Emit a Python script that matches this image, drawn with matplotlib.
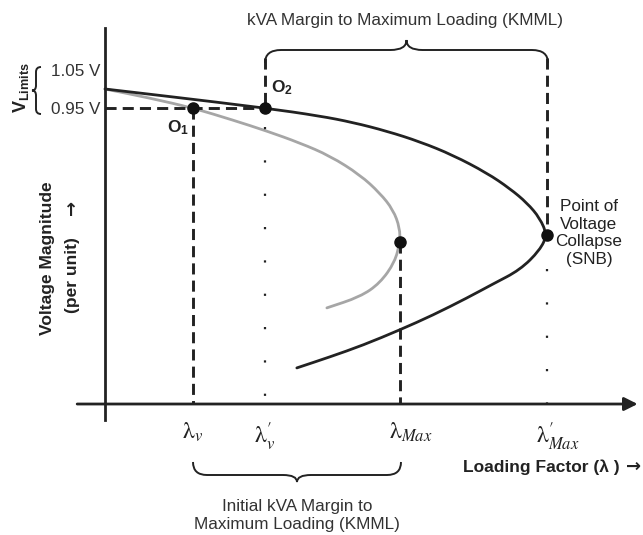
import numpy as np
import matplotlib
matplotlib.use('Agg')
import matplotlib.pyplot as plt
from matplotlib.path import Path
from matplotlib.patches import PathPatch

plt.rcParams['font.family'] = ['Liberation Sans', 'DejaVu Sans']
plt.rcParams['mathtext.fontset'] = 'custom'
plt.rcParams['mathtext.rm'] = 'Liberation Sans'
plt.rcParams['mathtext.it'] = 'Liberation Sans:italic'
plt.rcParams['mathtext.bf'] = 'Liberation Sans:bold'

# base case PV curve (loading factor, voltage in pu)
base_lam = [0.0, 0.140, 0.362, 0.486, 0.561, 0.638, 0.713, 0.787, 0.864, 0.916, 0.955,
            0.984, 1.0, 0.984, 0.939, 0.878, 0.819, 0.742, 0.667, 0.584, 0.509, 0.434]
base_v = [1.000, 0.981, 0.950, 0.929, 0.912, 0.889, 0.861, 0.826, 0.779, 0.738, 0.700,
          0.660, 0.616, 0.576, 0.524, 0.487, 0.450, 0.405, 0.366, 0.326, 0.295, 0.266]

# initial (stressed) PV curve
init_lam = [0.0, 0.102, 0.199, 0.290, 0.367, 0.441, 0.509, 0.577, 0.622, 0.652, 0.667,
            0.667, 0.656, 0.622, 0.577, 0.502]
init_v = [1.000, 0.976, 0.950, 0.918, 0.889, 0.858, 0.824, 0.774, 0.726, 0.682, 0.634,
          0.597, 0.545, 0.489, 0.453, 0.424]

v_limits = [1.05, 0.95]
lam_v, lam_v2, lam_max, lam_max2 = 0.199, 0.362, 0.667, 1.0
v_nose_init, v_nose_base = 0.597, 0.616
lam_ticks = [lam_v, lam_v2, lam_max, lam_max2]
lam_labels = [r'$\mathrm{\lambda}_v$', r"$\mathrm{\lambda}^{\prime}_v$",
              r'$\mathrm{\lambda}_{Max}$', r"$\mathrm{\lambda}^{\prime}_{Max}$"]

V_AXIS = 0.171   # level of the loading-factor axis
INK = '#222222'

fig = plt.figure(figsize=(6.43, 5.35), dpi=100)
ax = fig.add_axes([0, 0, 1, 1])
ax.set_xlim(-0.2376, 1.2172)
ax.set_ylim(-0.1737, 1.2342)
ax.axis('off')

# overlay in pixel units for braces and text
ov = fig.add_axes([0, 0, 1, 1])
ov.set_xlim(0, 643)
ov.set_ylim(535, 0)
ov.axis('off')
ov.patch.set_alpha(0)


def smooth_curve(xs, ys, color):
    # quadratic segments through midpoints so the curve has no corners
    p = np.column_stack([xs, ys])
    verts = [p[0], (p[0] + p[1]) / 2]
    codes = [Path.MOVETO, Path.LINETO]
    for i in range(1, len(p) - 1):
        verts += [p[i], (p[i] + p[i + 1]) / 2]
        codes += [Path.CURVE3, Path.CURVE3]
    verts.append(p[-1])
    codes.append(Path.LINETO)
    ax.add_patch(PathPatch(Path(verts, codes), fill=False, lw=2.0, edgecolor=color,
                           capstyle='round', joinstyle='round'))


# axes lines
ax.plot([0, 0], [0.129, 1.1605], color=INK, lw=2.0)
ax.annotate('', xy=(1.205, V_AXIS), xytext=(-0.063, V_AXIS),
            arrowprops=dict(arrowstyle='-|>', lw=2.0, color=INK, mutation_scale=20,
                            shrinkA=0, shrinkB=0))

# curves
smooth_curve(init_lam, init_v, '#a6a6a6')
smooth_curve(base_lam, base_v, INK)

dash = (0, (3.8, 2.1))
dot = (0, (1, 14))
lw = 2.1
ax.plot([0, lam_v2], [0.95, 0.95], color=INK, lw=lw, linestyle=dash)
ax.plot([lam_v, lam_v], [0.95, V_AXIS], color=INK, lw=lw, linestyle=dash)
ax.plot([lam_max, lam_max], [v_nose_init, V_AXIS], color=INK, lw=lw, linestyle=dash)
ax.plot([lam_v2, lam_v2], [1.082, 0.95], color=INK, lw=lw, linestyle=dash)
ax.plot([lam_v2, lam_v2], [0.95 - 0.05, V_AXIS], color=INK, lw=1.6, linestyle=dot)
ax.plot([lam_max2, lam_max2], [1.082, v_nose_base], color=INK, lw=lw, linestyle=dash)
ax.plot([lam_max2, lam_max2], [v_nose_base - 0.09, V_AXIS], color=INK, lw=1.6, linestyle=dot)

ax.plot([lam_v, lam_v2, lam_max, lam_max2], [0.95, 0.95, v_nose_init, v_nose_base],
        'o', color='#111111', markersize=8)

# tick labels
for lam, lab in zip(lam_ticks, lam_labels):
    ax.text(lam - 0.024, V_AXIS - 0.045, lab, fontsize=17, ha='left', va='top',
            color=INK, math_fontfamily='stix')


def brace(p0, p1, d, tip, r, normal):
    p0 = np.array(p0, float)
    p1 = np.array(p1, float)
    L = np.linalg.norm(p1 - p0)
    u = (p1 - p0) / L
    n = np.array(normal, float)
    P = lambda s, t: p0 + s * u + t * n
    m = L / 2
    verts = [P(0, 0), P(0, d), P(r, d), P(m - r, d), P(m, d), P(m, d + tip),
             P(m, d), P(m + r, d), P(L - r, d), P(L, d), P(L, 0)]
    codes = [Path.MOVETO, Path.CURVE3, Path.CURVE3, Path.LINETO, Path.CURVE3, Path.CURVE3,
             Path.CURVE3, Path.CURVE3, Path.LINETO, Path.CURVE3, Path.CURVE3]
    ov.add_patch(PathPatch(Path(verts, codes), fill=False, lw=1.4, edgecolor=INK))


brace((265, 63), (548, 63), 13, 10, 16, (0, -1))
brace((193, 462), (401, 462), 13, 7, 14, (0, 1))
brace((41, 67), (41, 114), 5, 4, 5, (-1, 0))

# texts
ov.text(405, 20, 'kVA Margin to Maximum Loading (KMML)', fontsize=12.3, ha='center',
        va='center', color='#333333')
ov.text(100, 72, '1.05 V', fontsize=12.3, ha='right', va='center', color='#333333')
ov.text(100, 110, '0.95 V', fontsize=12.3, ha='right', va='center', color='#333333')
ov.text(21, 88, r'$\mathbf{V_{Limits}}$', fontsize=13, rotation=90, ha='center',
        va='center', color=INK)
ov.text(178, 128, r'$\mathbf{O_1}$', fontsize=12.5, ha='center', va='center', color=INK)
ov.text(282, 88, r'$\mathbf{O_2}$', fontsize=12.5, ha='center', va='center', color=INK)
ov.text(48, 258, 'Voltage Magnitude', fontsize=12.5, fontweight='bold', rotation=90,
        ha='center', va='center', color=INK)
ov.text(73, 275, '(per unit)', fontsize=12.5, fontweight='bold', rotation=90,
        ha='center', va='center', color=INK)
ov.text(72, 207, '\u2192', fontsize=13, fontweight='bold', rotation=90, ha='center',
        va='center', color=INK, family=['DejaVu Sans'])
ov.text(589, 233, 'Point of\nVoltage\nCollapse\n(SNB)', fontsize=12.3, ha='center',
        va='center', color=INK, linespacing=1.2)
ov.text(620, 467, 'Loading Factor (\u03bb )', fontsize=12.5, fontweight='bold',
        ha='right', va='center', color=INK)
ov.text(634, 467, '\u2192', fontsize=13, fontweight='bold', ha='center', va='center',
        color=INK, family=['DejaVu Sans'])
ov.text(297, 515, 'Initial kVA Margin to\nMaximum Loading (KMML)', fontsize=12.3,
        ha='center', va='center', color='#333333', linespacing=1.25)

fig.savefig('out.png', dpi=100)
